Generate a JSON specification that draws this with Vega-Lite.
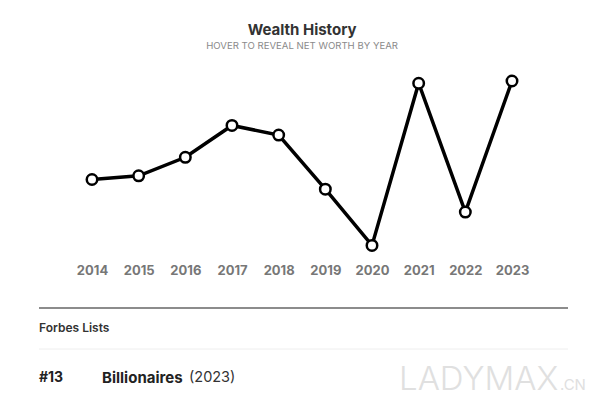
{
  "$schema": "https://vega.github.io/schema/vega-lite/v6.json",
  "background": "#ffffff",
  "padding": {"left": 38, "right": 33, "top": 23, "bottom": 0},
  "title": {
    "text": "Wealth History",
    "subtitle": "HOVER TO REVEAL NET WORTH BY YEAR",
    "anchor": "middle",
    "dx": -10,
    "fontSize": 15,
    "fontWeight": "bold",
    "color": "#333333",
    "subtitleFontSize": 9.6,
    "subtitleColor": "#8a8a8a",
    "subtitlePadding": 3,
    "offset": 10
  },
  "spacing": 30,
  "vconcat": [
    {
      "width": 529,
      "height": 200,
      "data": {"values": [
        {"year": "2014", "worth": 64.0},
        {"year": "2015", "worth": 64.5},
        {"year": "2016", "worth": 67.0},
        {"year": "2017", "worth": 71.3},
        {"year": "2018", "worth": 70.0},
        {"year": "2019", "worth": 62.7},
        {"year": "2020", "worth": 55.1},
        {"year": "2021", "worth": 77.0},
        {"year": "2022", "worth": 59.6},
        {"year": "2023", "worth": 77.3}
      ]},
      "encoding": {
        "x": {"field": "year", "type": "ordinal",
          "scale": {"type": "point", "padding": 0, "range": [53, 473]},
          "axis": {"title": null, "labelAngle": 0, "domain": false, "ticks": false, "grid": false,
            "labelFontSize": 13, "labelFontWeight": "bold", "labelColor": "#777777", "labelPadding": 3}},
        "y": {"field": "worth", "type": "quantitative",
          "scale": {"domain": [53, 80], "zero": false, "nice": false}, "axis": null}
      },
      "layer": [
        {"mark": {"type": "line", "color": "#000000", "strokeWidth": 3.5}},
        {"mark": {"type": "point", "filled": true, "fill": "#ffffff", "stroke": "#000000", "strokeWidth": 2.5, "size": 110, "opacity": 1}}
      ]
    },
    {
      "width": 529,
      "height": 95,
      "data": {"values": [{"rank": "#13", "list": "Billionaires", "year": "(2023)"}]},
      "layer": [
        {"mark": {"type": "rule", "color": "#666666", "strokeWidth": 1.5},
         "encoding": {"x": {"value": 0}, "x2": {"value": 529}, "y": {"value": 0}}},
        {"mark": {"type": "rule", "color": "#eeeeee", "strokeWidth": 1},
         "encoding": {"x": {"value": 0}, "x2": {"value": 529}, "y": {"value": 41}}},
        {"mark": {"type": "text", "text": "Forbes Lists", "align": "left", "baseline": "middle", "fontSize": 12, "fontWeight": 600, "color": "#333333"},
         "encoding": {"x": {"value": 0}, "y": {"value": 20}}},
        {"mark": {"type": "text", "align": "left", "baseline": "middle", "fontSize": 14, "fontWeight": "bold", "color": "#222222"},
         "encoding": {"text": {"field": "rank"}, "x": {"value": 0}, "y": {"value": 70}}},
        {"mark": {"type": "text", "align": "left", "baseline": "middle", "fontSize": 15, "fontWeight": "bold", "color": "#222222"},
         "encoding": {"text": {"field": "list"}, "x": {"value": 63}, "y": {"value": 70}}},
        {"mark": {"type": "text", "align": "left", "baseline": "middle", "fontSize": 14.5, "fontWeight": "normal", "color": "#333333"},
         "encoding": {"text": {"field": "year"}, "x": {"value": 150}, "y": {"value": 70}}},
        {"mark": {"type": "text", "text": "LADYMAX", "align": "left", "baseline": "alphabetic", "fontSize": 33, "fontWeight": 300, "color": "#e0e0e0"},
         "encoding": {"x": {"value": 360}, "y": {"value": 82}}},
        {"mark": {"type": "text", "text": ".CN", "align": "left", "baseline": "alphabetic", "fontSize": 15, "fontWeight": "normal", "color": "#e0e0e0"},
         "encoding": {"x": {"value": 521}, "y": {"value": 82}}}
      ]
    }
  ],
  "config": {
    "view": {"stroke": null},
    "font": "Inter"
  }
}
